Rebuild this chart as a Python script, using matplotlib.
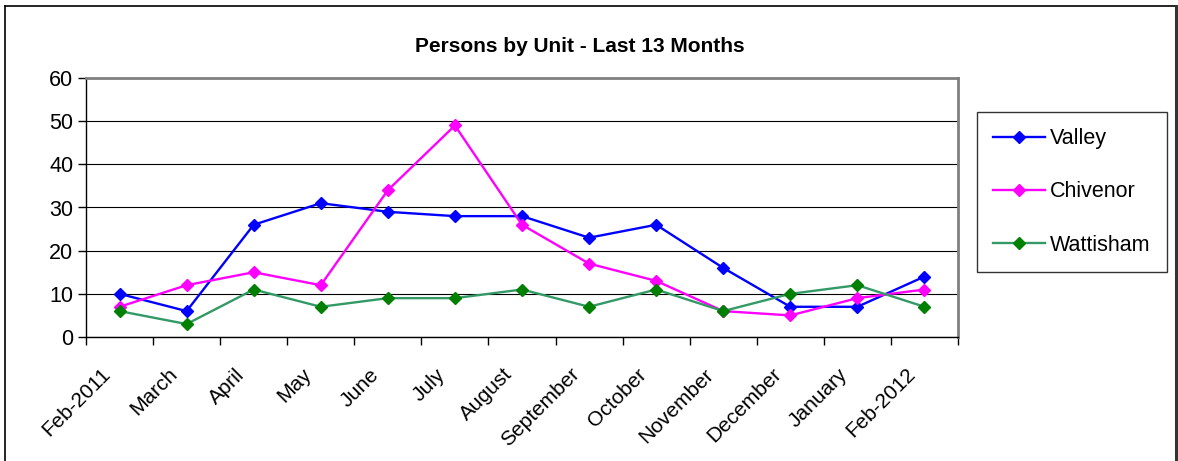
import matplotlib
matplotlib.use('Agg')
import matplotlib.pyplot as plt
import matplotlib.transforms as mtransforms
from matplotlib.lines import Line2D
import numpy as np

plt.rcParams['font.family'] = ['Liberation Sans', 'DejaVu Sans']

# ## Data
months = ['Feb-2011', 'March', 'April', 'May', 'June', 'July', 'August',
          'September', 'October', 'November', 'December', 'January', 'Feb-2012']
valley = [10, 6, 26, 31, 29, 28, 28, 23, 26, 16, 7, 7, 14]
chivenor = [7, 12, 15, 12, 34, 49, 26, 17, 13, 6, 5, 9, 11]
wattisham = [6, 3, 11, 7, 9, 9, 11, 7, 11, 6, 10, 12, 7]

W, H = 1178, 461
fig = plt.figure(figsize=(W / 100, H / 100), dpi=100)
ax = fig.add_axes([86 / W, 1 - 337 / H, (958 - 86) / W, (337 - 78) / H])

x = np.arange(len(months))
ax.plot(x, valley, color='#0000FF', lw=1.7, marker='D', ms=6.5,
        mfc='#0000FF', mec='#0000FF', label='Valley', clip_on=False, zorder=4)
ax.plot(x, chivenor, color='#FF00FF', lw=1.7, marker='D', ms=6.5,
        mfc='#FF00FF', mec='#FF00FF', label='Chivenor', clip_on=False, zorder=4)
ax.plot(x, wattisham, color='#339966', lw=1.7, marker='D', ms=6.5,
        mfc='#008000', mec='#008000', label='Wattisham', clip_on=False, zorder=4)

ax.set_xlim(-0.5, len(months) - 0.5)
ax.set_ylim(0, 60)
ax.set_yticks(range(0, 61, 10))
ax.yaxis.grid(True, color='black', lw=0.8)
ax.set_axisbelow(True)

# category ticks sit between labels
ax.set_xticks(np.arange(-0.5, len(months), 1.0))
ax.set_xticklabels([])
ax.set_xticks(x, minor=True)
ax.set_xticklabels(months, minor=True, rotation=45, ha='right',
                   va='top', rotation_mode='anchor', fontsize=15)
ax.tick_params(axis='x', which='minor', length=0, pad=20)
ax.tick_params(axis='x', which='major', length=6, width=1, direction='out')
ax.tick_params(axis='y', length=6, width=1, labelsize=15.5, pad=3)

# shift the rotated labels a little left, like Excel does
shift = mtransforms.ScaledTranslation(-19 / 100, 0, fig.dpi_scale_trans)
for lab in ax.get_xticklabels(minor=True):
    lab.set_transform(lab.get_transform() + shift)

for s in ['top', 'right']:
    ax.spines[s].set_color('#808080')
    ax.spines[s].set_linewidth(2)
for s in ['left', 'bottom']:
    ax.spines[s].set_color('black')
    ax.spines[s].set_linewidth(1)

fig.text(580 / W, 1 - 46 / H, 'Persons by Unit - Last 13 Months',
         ha='center', va='center', fontsize=15, fontweight='bold')

leg = ax.legend(loc='upper left', bbox_to_anchor=(977 / W, 1 - 112 / H),
                bbox_transform=fig.transFigure, fontsize=15.5, frameon=True,
                fancybox=False, edgecolor='black', handlelength=2.4,
                labelspacing=1.5, borderpad=0.75, handletextpad=0.25,
                borderaxespad=0)
leg.get_frame().set_linewidth(1)

# outer chart frame
fig.add_artist(Line2D([4.5 / W, 4.5 / W], [0, 1 - 6 / H], color='black', lw=1.2))
fig.add_artist(Line2D([4.5 / W, 1176 / W], [1 - 6 / H, 1 - 6 / H], color='black', lw=1.2))
fig.add_artist(Line2D([1176 / W, 1176 / W], [0, 1 - 6 / H], color='#333333', lw=2.2))

fig.savefig('out.png', dpi=100, facecolor='white')
